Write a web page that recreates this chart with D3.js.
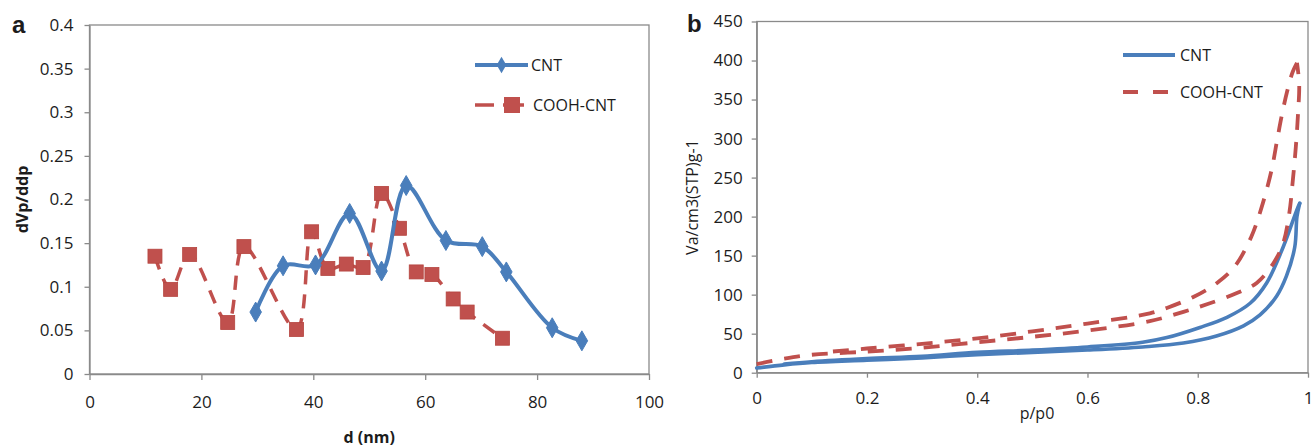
<!DOCTYPE html>
<html>
<head>
<meta charset="utf-8">
<script src="https://cdn.jsdelivr.net/npm/d3@7/dist/d3.min.js"></script>
<style>
  html, body { margin: 0; padding: 0; background: #fff; }
  svg { display: block; }
  text { font-family: "Open Sans", sans-serif; fill: #1c1c1c; }
</style>
</head>
<body>
<svg id="chart" width="1312" height="447"></svg>
<script>
// ---------- Panel a data: pore size distribution ----------
const cntD    = [29.7, 34.6, 40.4, 46.5, 52.2, 56.6, 63.7, 70.2, 74.5, 82.7, 88.0];
const cntDv   = [0.071, 0.124, 0.125, 0.184, 0.118, 0.216, 0.153, 0.146, 0.117, 0.053, 0.038];
const coohD   = [11.7, 14.5, 17.9, 24.7, 27.6, 37.0, 39.7, 42.6, 45.9, 48.9, 52.2, 55.4, 58.4, 61.2, 65.0, 67.5, 73.8];
const coohDv  = [0.135, 0.097, 0.137, 0.059, 0.146, 0.051, 0.163, 0.121, 0.126, 0.122, 0.207, 0.167, 0.117, 0.114, 0.086, 0.071, 0.041];
const xTicksA = [0, 20, 40, 60, 80, 100];
const yTicksA = [0, 0.05, 0.1, 0.15, 0.2, 0.25, 0.3, 0.35, 0.4];
const yTickLabelsA = ["0", "0.05", "0.1", "0.15", "0.2", "0.25", "0.3", "0.35", "0.4"];

// ---------- Panel b data: N2 isotherms ----------
const cntAdsP  = [0, 0.05, 0.1, 0.2, 0.3, 0.4, 0.5, 0.6, 0.7, 0.774, 0.834, 0.883, 0.913, 0.943, 0.961, 0.976, 0.98, 0.985];
const cntAdsV  = [6, 10, 13, 16, 19, 23, 26, 29, 33, 38, 47, 60, 74, 98, 124, 161, 200, 217];
const cntDesP  = [0.985, 0.98, 0.955, 0.925, 0.895, 0.853, 0.804, 0.744, 0.7, 0.6, 0.5, 0.4, 0.3, 0.2, 0.1, 0.05];
const cntDesV  = [217, 209, 161, 115, 89, 71, 58, 45, 39, 33, 29, 26, 21, 18, 14, 11];
const coohAdsP = [0, 0.05, 0.1, 0.2, 0.3, 0.4, 0.5, 0.6, 0.713, 0.774, 0.822, 0.871, 0.907, 0.937, 0.955, 0.966, 0.972, 0.978, 0.982, 0.984, 0.98];
const coohAdsV = [11, 18, 23, 27, 32, 39, 46, 54, 66, 78, 89, 102, 115, 140, 166, 204, 243, 290, 333, 370, 397];
const coohDesP = [0.98, 0.972, 0.962, 0.952, 0.944, 0.934, 0.918, 0.897, 0.867, 0.835, 0.792, 0.744, 0.713, 0.6, 0.5, 0.4, 0.3, 0.2, 0.12];
const coohDesV = [397, 385, 360, 328, 298, 260, 217, 174, 136, 115, 97, 83, 76, 63, 53, 44, 37, 31, 26];
const xTicksB = [0, 0.2, 0.4, 0.6, 0.8, 1];
const xTickLabelsB = ["0", "0.2", "0.4", "0.6", "0.8", "1"];
const yTicksB = [0, 50, 100, 150, 200, 250, 300, 350, 400, 450];

const seriesNames = ["CNT", "COOH-CNT"];
const BLUE = "#4a7ebb", RED = "#c0504d", AXIS = "#8a8a8a";

const svg = d3.select("#chart");
const zip = (a, b) => a.map((v, i) => [v, b[i]]);

function frame(g, x, y, w, h) {
  g.append("rect").attr("x", x).attr("y", y).attr("width", w).attr("height", h)
    .attr("fill", "none").attr("stroke", AXIS).attr("stroke-width", 1.3);
}
function styleAxis(sel) {
  sel.select(".domain").attr("stroke", AXIS).attr("stroke-width", 1.3);
  sel.selectAll(".tick line").attr("stroke", AXIS).attr("stroke-width", 1.3);
  sel.selectAll(".tick text").style("font-family", "'Open Sans', sans-serif")
     .style("font-size", "17px").attr("fill", "#1c1c1c");
}

// ================= Panel a =================
{
  const L = 89.5, R = 649, T = 25, B = 374;
  const x = d3.scaleLinear().domain([0, 100]).range([L, R]);
  const y = d3.scaleLinear().domain([0, 0.4]).range([B, T]);
  const g = svg.append("g");
  frame(g, L, T, R - L, B - T);

  const ax = g.append("g").attr("transform", `translate(0,${B})`)
    .call(d3.axisBottom(x).tickValues(xTicksA).tickSize(6).tickPadding(16).tickSizeOuter(0));
  styleAxis(ax);
  const ay = g.append("g").attr("transform", `translate(${L},0)`)
    .call(d3.axisLeft(y).tickValues(yTicksA).tickFormat((d, i) => yTickLabelsA[i]).tickSize(5).tickPadding(11).tickSizeOuter(0));
  styleAxis(ay);

  const line = d3.line().x(d => x(d[0])).y(d => y(d[1])).curve(d3.curveCatmullRom.alpha(0.5));
  const red = zip(coohD, coohDv), blue = zip(cntD, cntDv);

  g.append("path").attr("d", line(red)).attr("fill", "none").attr("stroke", RED)
    .attr("stroke-width", 3.5).attr("stroke-dasharray", "14,10");
  g.selectAll(".sq").data(red).enter().append("rect")
    .attr("x", d => x(d[0]) - 7).attr("y", d => y(d[1]) - 7).attr("width", 14).attr("height", 14)
    .attr("fill", RED).attr("stroke", "#b5443f").attr("stroke-width", 0.8);

  g.append("path").attr("d", line(blue)).attr("fill", "none").attr("stroke", BLUE)
    .attr("stroke-width", 4).attr("stroke-linejoin", "round");
  const dia = d3.symbol().type(d3.symbolDiamond).size(115);
  g.selectAll(".dm").data(blue).enter().append("path")
    .attr("d", dia).attr("transform", d => `translate(${x(d[0])},${y(d[1])})`)
    .attr("fill", BLUE).attr("stroke", BLUE).attr("stroke-width", 1);

  // legend
  g.append("line").attr("x1", 475).attr("x2", 528).attr("y1", 65).attr("y2", 65)
    .attr("stroke", BLUE).attr("stroke-width", 4);
  g.append("path").attr("d", d3.symbol().type(d3.symbolDiamond).size(80))
    .attr("transform", "translate(501.5,65)").attr("fill", BLUE);
  g.append("text").attr("x", 531).attr("y", 65).attr("dy", "0.35em").style("font-size", "16px").text(seriesNames[0]);

  g.append("line").attr("x1", 475).attr("x2", 524).attr("y1", 105).attr("y2", 105)
    .attr("stroke", RED).attr("stroke-width", 3.5).attr("stroke-dasharray", "19,9,30");
  g.append("rect").attr("x", 504).attr("y", 97).attr("width", 16).attr("height", 16).attr("fill", RED);
  g.append("text").attr("x", 533).attr("y", 105).attr("dy", "0.35em").style("font-size", "16px").text(seriesNames[1]);

  // titles
  g.append("text").attr("transform", `translate(22,${(T + B) / 2}) rotate(-90)`)
    .attr("text-anchor", "middle").attr("dy", "0.35em")
    .style("font-size", "16px").style("font-weight", "bold").text("dVp/ddp");
  g.append("text").attr("x", (L + R) / 2).attr("y", 437).attr("dy", "0.35em")
    .attr("text-anchor", "middle").style("font-size", "16px").style("font-weight", "bold").text("d (nm)");
  g.append("text").attr("x", 12).attr("y", 33).style("font-family", "'Liberation Sans', Arial, sans-serif")
    .style("font-size", "24px").style("font-weight", "bold").attr("fill", "#000").text("a");
}

// ================= Panel b =================
{
  const L = 756.7, R = 1308, T = 21.5, B = 372.7;
  const x = d3.scaleLinear().domain([0, 1]).range([L, R]);
  const y = d3.scaleLinear().domain([0, 450]).range([B, T]);
  const g = svg.append("g");
  frame(g, L, T, R - L, B - T);

  const ax = g.append("g").attr("transform", `translate(0,${B})`)
    .call(d3.axisBottom(x).tickValues(xTicksB).tickFormat((d, i) => xTickLabelsB[i]).tickSize(5).tickPadding(14).tickSizeOuter(0));
  styleAxis(ax);
  const ay = g.append("g").attr("transform", `translate(${L},0)`)
    .call(d3.axisLeft(y).tickValues(yTicksB).tickSize(5).tickPadding(9).tickSizeOuter(0));
  styleAxis(ay);

  const line = d3.line().x(d => x(d[0])).y(d => y(d[1])).curve(d3.curveCatmullRom.alpha(0.5));

  [zip(cntAdsP, cntAdsV), zip(cntDesP, cntDesV)].forEach(s => {
    g.append("path").attr("d", line(s)).attr("fill", "none").attr("stroke", BLUE)
      .attr("stroke-width", 3.6).attr("stroke-linejoin", "round").attr("stroke-linecap", "round");
  });
  [zip(coohAdsP, coohAdsV), zip(coohDesP, coohDesV)].forEach(s => {
    g.append("path").attr("d", line(s)).attr("fill", "none").attr("stroke", RED)
      .attr("stroke-width", 3.8).attr("stroke-dasharray", "16,12");
  });

  // legend
  g.append("line").attr("x1", 1123).attr("x2", 1175).attr("y1", 55).attr("y2", 55)
    .attr("stroke", BLUE).attr("stroke-width", 4);
  g.append("text").attr("x", 1180).attr("y", 55).attr("dy", "0.35em").style("font-size", "16px").text(seriesNames[0]);
  g.append("line").attr("x1", 1123).attr("x2", 1175).attr("y1", 92).attr("y2", 92)
    .attr("stroke", RED).attr("stroke-width", 4).attr("stroke-dasharray", "15,15");
  g.append("text").attr("x", 1180).attr("y", 92).attr("dy", "0.35em").style("font-size", "16px").text(seriesNames[1]);

  // titles
  g.append("text").attr("transform", `translate(692,${(T + B) / 2}) rotate(-90)`)
    .attr("text-anchor", "middle").attr("dy", "0.35em").style("font-size", "16px").text("Va/cm3(STP)g-1");
  g.append("text").attr("x", 1037).attr("y", 413).attr("dy", "0.35em")
    .attr("text-anchor", "middle").style("font-size", "16px").text("p/p0");
  g.append("text").attr("x", 687).attr("y", 32).style("font-family", "'Liberation Sans', Arial, sans-serif")
    .style("font-size", "24px").style("font-weight", "bold").attr("fill", "#000").text("b");
}
</script>
</body>
</html>
